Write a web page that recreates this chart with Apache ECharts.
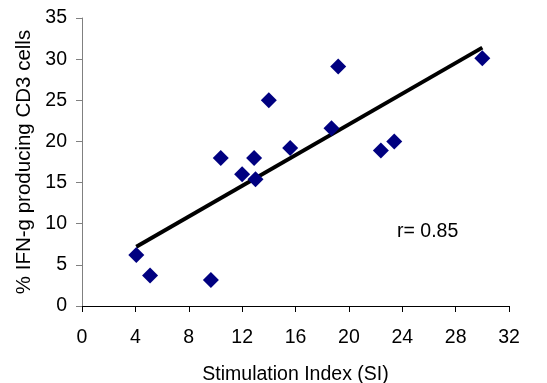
<!DOCTYPE html>
<html><head><meta charset="utf-8">
<script src="https://cdn.jsdelivr.net/npm/echarts@6/dist/echarts.min.js"></script>
<style>html,body{margin:0;padding:0;background:#fff}#c{width:547px;height:383px}</style>
</head><body><div id="c"></div>
<script>
const siValues = [4.07, 5.1, 9.66, 10.4, 12.0, 12.9, 13.0, 14.0, 15.6, 18.7, 19.2, 22.4, 23.4, 30.0];
const ifnValues = [6.2, 3.7, 3.16, 18.0, 16.0, 18.0, 15.4, 25.0, 19.2, 21.6, 29.1, 18.9, 20.0, 30.1];
const trendX = [4.07, 30.0];
const trendY = [7.2, 31.4];
const xTicks = [0, 4, 8, 12, 16, 20, 24, 28, 32];
const yTicks = [0, 5, 10, 15, 20, 25, 30, 35];
const rLabel = 'r= 0.85';

const font = 'Arial, "Liberation Sans", sans-serif';
const chart = echarts.init(document.getElementById('c'), null, {renderer: 'canvas'});
chart.setOption({
  animation: false,
  backgroundColor: '#fff',
  grid: {left: 82, right: 38, top: 18, bottom: 77, containLabel: false, outerBoundsMode: 'none'},
  xAxis: {
    type: 'value', min: xTicks[0], max: xTicks[xTicks.length-1], interval: 4,
    name: 'Stimulation Index (SI)', nameLocation: 'middle', nameGap: 59,
    nameTextStyle: {fontFamily: font, fontSize: 19.5, color: '#000'},
    axisLine: {show: true, onZero: false, lineStyle: {color: '#000', width: 1}},
    axisTick: {show: true, inside: false, length: 6, lineStyle: {color: '#000'}},
    axisLabel: {fontFamily: font, fontSize: 19.5, color: '#000', margin: 22},
    splitLine: {show: false}
  },
  yAxis: {
    type: 'value', min: yTicks[0], max: yTicks[yTicks.length-1], interval: 5,
    name: '% IFN-g producing CD3 cells', nameLocation: 'middle', nameGap: 47,
    nameTextStyle: {fontFamily: font, fontSize: 20.5, color: '#000'},
    axisLine: {show: true, onZero: false, lineStyle: {color: '#808080', width: 1}},
    axisTick: {show: true, inside: false, length: 6, lineStyle: {color: '#808080'}},
    axisLabel: {fontFamily: font, fontSize: 19.5, color: '#000', margin: 15},
    splitLine: {show: false}
  },
  series: [
    {
      type: 'line', data: trendX.map((x, i) => [x, trendY[i]]),
      symbol: 'none', lineStyle: {color: '#000', width: 4}, z: 2
    },
    {
      type: 'scatter', data: siValues.map((x, i) => [x, ifnValues[i]]),
      symbol: 'diamond', symbolSize: [16, 16],
      itemStyle: {color: '#000080', opacity: 1}, z: 3
    }
  ],
  graphic: [{
    type: 'text', left: 397, top: 222,
    style: {text: rLabel, fontFamily: font, fontSize: 19.5, fill: '#000'}
  }]
});
</script></body></html>
